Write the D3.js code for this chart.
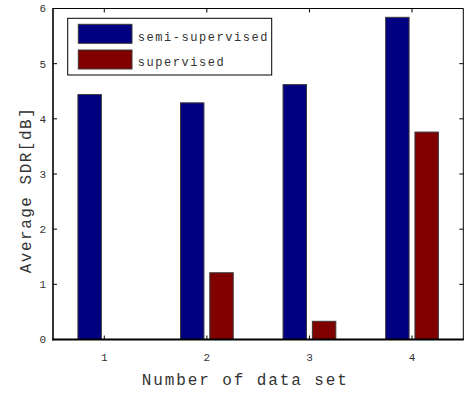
<!DOCTYPE html>
<html>
<head>
<meta charset="utf-8">
<script src="https://cdn.jsdelivr.net/npm/d3@7"></script>
<style>
  html, body { margin: 0; padding: 0; background: #fff; }
  svg { display: block; }
  text { font-family: "Liberation Mono", "DejaVu Sans Mono", monospace; fill: #333; }
</style>
</head>
<body>
<svg id="chart" width="465" height="394"></svg>
<script>
const categories = [1, 2, 3, 4];
const seriesNames = ["semi-supervised", "supervised"];
const semiSupervised = [4.44, 4.29, 4.62, 5.84];
const supervised = [0.0, 1.21, 0.33, 3.76];
const seriesColors = ["#000080", "#800000"];
const yTicks = [0, 1, 2, 3, 4, 5, 6];
const xLabel = "Number of data set";
const yLabel = "Average SDR[dB]";

const series = [semiSupervised, supervised];

const svg = d3.select("#chart");
const pLeft = 53, pRight = 463.3, pTop = 8.5, pBottom = 339.5;

const x = d3.scaleLinear().domain([0.5, 4.5]).range([pLeft, pRight]);
const y = d3.scaleLinear().domain([0, 6]).range([pBottom, pTop]);

// MATLAB grouped-bar geometry
const n = series.length;
const groupWidth = Math.min(0.8, n / (n + 1.5));
const barWidth = groupWidth / n * 0.8;

const g = svg.append("g");

series.forEach((vals, si) => {
  const off = -groupWidth / 2 + (2 * si + 1) * groupWidth / (2 * n);
  g.selectAll(null)
    .data(categories.map((c, i) => ({ c, v: vals[i] })))
    .enter()
    .append("rect")
    .attr("x", d => x(d.c + off - barWidth / 2))
    .attr("width", d => x(d.c + off + barWidth / 2) - x(d.c + off - barWidth / 2))
    .attr("y", d => y(d.v))
    .attr("height", d => Math.max(0, y(0) - y(d.v)))
    .attr("fill", seriesColors[si])
    .attr("stroke", "#3a3a3a")
    .attr("stroke-width", 1);
});

// Axes (box with inward ticks)
const tickLen = 4;
const axisG = svg.append("g").attr("stroke", "#000").attr("fill", "none");
axisG.append("line").attr("x1", pLeft).attr("x2", pRight).attr("y1", pTop).attr("y2", pTop).attr("stroke-width", 1);
axisG.append("line").attr("x1", pRight).attr("x2", pRight).attr("y1", pTop).attr("y2", pBottom).attr("stroke-width", 1);
axisG.append("line").attr("x1", pLeft).attr("x2", pLeft).attr("y1", pTop - 0.5).attr("y2", pBottom + 1).attr("stroke-width", 1.6);
axisG.append("line").attr("x1", pLeft - 0.5).attr("x2", pRight + 0.5).attr("y1", pBottom).attr("y2", pBottom).attr("stroke-width", 1.8);

yTicks.forEach(t => {
  axisG.append("line").attr("x1", pLeft).attr("x2", pLeft + tickLen).attr("y1", y(t)).attr("y2", y(t)).attr("stroke-width", 1);
  axisG.append("line").attr("x1", pRight).attr("x2", pRight - tickLen).attr("y1", y(t)).attr("y2", y(t)).attr("stroke-width", 1);
});
categories.forEach(c => {
  axisG.append("line").attr("x1", x(c)).attr("x2", x(c)).attr("y1", pBottom).attr("y2", pBottom - tickLen).attr("stroke-width", 1);
  axisG.append("line").attr("x1", x(c)).attr("x2", x(c)).attr("y1", pTop).attr("y2", pTop + tickLen).attr("stroke-width", 1);
});

svg.append("g").selectAll("text").data(yTicks).enter().append("text")
  .attr("x", pLeft - 7).attr("y", d => y(d)).attr("dy", "0.35em")
  .attr("text-anchor", "end").attr("font-size", 11).text(d => d);
svg.append("g").selectAll("text").data(categories).enter().append("text")
  .attr("x", d => x(d)).attr("y", 361)
  .attr("text-anchor", "middle").attr("font-size", 11).text(d => d);

svg.append("text").attr("x", (pLeft + pRight) / 2 - 13).attr("y", 385)
  .attr("text-anchor", "middle").attr("font-size", 16).attr("letter-spacing", 1.9)
  .text(xLabel);
svg.append("text").attr("transform", "translate(31,190) rotate(-90)")
  .attr("text-anchor", "middle").attr("font-size", 16).attr("letter-spacing", 1.5)
  .text(yLabel);

const lg = svg.append("g");
lg.append("rect").attr("x", 67.7).attr("y", 18.3).attr("width", 204).attr("height", 56.7)
  .attr("fill", "#fff").attr("stroke", "#000").attr("stroke-width", 1);
seriesNames.forEach((name, i) => {
  lg.append("rect").attr("x", 78.3).attr("y", 24.3 + i * 25.7).attr("width", 53.7).attr("height", 19)
    .attr("fill", seriesColors[i]).attr("stroke", "#3a3a3a").attr("stroke-width", 1);
  lg.append("text").attr("x", 137.7).attr("y", 40.7 + i * 25.3)
    .attr("font-size", 12).attr("letter-spacing", 1.55).text(name);
});
</script>
</body>
</html>
